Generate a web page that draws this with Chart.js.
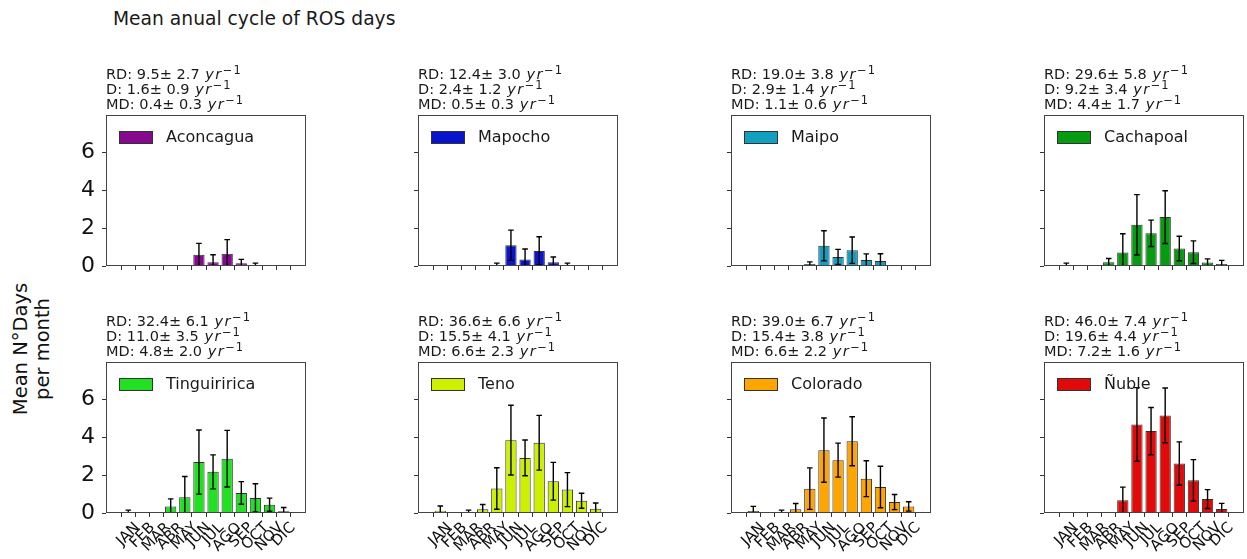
<!DOCTYPE html>
<html><head><meta charset="utf-8">
<script src="https://cdn.jsdelivr.net/npm/chart.js@4.4.0/dist/chart.umd.min.js"></script>
<style>
body{margin:0;background:#fff;width:1247px;height:559px;position:relative;overflow:hidden;font-family:'DejaVu Sans',sans-serif;color:#111;}
.wrap{position:absolute;}
.ann{position:absolute;font-size:14.5px;line-height:15px;white-space:nowrap;color:#1a1a1a;}
.ann i{font-style:italic;letter-spacing:1.5px;margin-left:1px;}
.ann sup{font-size:11.5px;line-height:0;vertical-align:5px;letter-spacing:1px;}
#title{position:absolute;left:113px;top:8px;font-size:18.7px;white-space:nowrap;color:#1a1a1a;}
#ylab{position:absolute;left:32px;top:349px;transform:translate(-50%,-50%) rotate(-90deg);font-size:19.5px;line-height:22px;text-align:center;white-space:nowrap;color:#111;}
</style>
</head><body>
<div id="title">Mean anual cycle of ROS days</div>
<div id="ylab">Mean N°Days<br>per month</div>
<script>
const months = ['JAN','FEB','MAR','ABR','MAY','JUN','JUL','AGO','SEP','OCT','NOV','DIC'];
const yTicks = [0,2,4,6];
const basins = ['Aconcagua','Mapocho','Maipo','Cachapoal','Tinguiririca','Teno','Colorado','Ñuble'];
const colors = ['#85088f','#0a14cc','#12a0c0','#079b12','#22e022','#ccf000','#ffa500','#e00a0a'];

const aconcaguaMean = [0,0,0,0,0,0.6,0.2,0.65,0.15,0.05,0,0];
const aconcaguaErr  = [0,0,0,0,0,0.6,0.4,0.75,0.2,0.1,0,0];
const mapochoMean = [0,0,0,0,0.05,1.1,0.35,0.8,0.2,0.05,0,0];
const mapochoErr  = [0,0,0,0,0.1,0.8,0.55,0.75,0.28,0.1,0,0];
const maipoMean = [0,0,0,0,0.1,1.07,0.48,0.84,0.32,0.27,0,0];
const maipoErr  = [0,0,0,0,0.12,0.8,0.4,0.7,0.32,0.38,0,0];
const cachapoalMean = [0.05,0,0,0.2,0.71,2.18,1.73,2.59,0.93,0.73,0.18,0.1];
const cachapoalErr  = [0.1,0,0,0.2,1.0,1.6,0.7,1.4,0.65,0.6,0.2,0.2];
const tinguiriricaMean = [0.05,0,0,0.35,0.83,2.7,2.18,2.88,1.06,0.8,0.44,0.09];
const tinguiriricaErr  = [0.1,0,0,0.4,1.1,1.7,0.9,1.5,0.6,0.75,0.35,0.2];
const tenoMean = [0.12,0,0.05,0.2,1.3,3.86,2.92,3.72,1.68,1.24,0.65,0.23];
const tenoErr  = [0.25,0,0.1,0.25,1.1,1.85,0.95,1.45,1.0,0.9,0.4,0.3];
const coloradoMean = [0.1,0,0.05,0.2,1.29,3.33,2.8,3.8,1.82,1.38,0.58,0.35];
const coloradoErr  = [0.25,0,0.1,0.3,1.1,1.7,0.9,1.3,0.95,1.1,0.4,0.25];
const nubleMean = [0,0,0,0,0.67,4.69,4.34,5.17,2.62,1.73,0.74,0.21];
const nubleErr  = [0,0,0,0,0.7,1.95,1.25,1.45,1.15,1.1,0.5,0.3];

const rdText = ['9.5± 2.7','12.4± 3.0','19.0± 3.8','29.6± 5.8','32.4± 6.1','36.6± 6.6','39.0± 6.7','46.0± 7.4'];
const dText  = ['1.6± 0.9','2.4± 1.2','2.9± 1.4','9.2± 3.4','11.0± 3.5','15.5± 4.1','15.4± 3.8','19.6± 4.4'];
const mdText = ['0.4± 0.3','0.5± 0.3','1.1± 0.6','4.4± 1.7','4.8± 2.0','6.6± 2.3','6.6± 2.2','7.2± 1.6'];

const means = [aconcaguaMean,mapochoMean,maipoMean,cachapoalMean,tinguiriricaMean,tenoMean,coloradoMean,nubleMean];
const errs  = [aconcaguaErr,mapochoErr,maipoErr,cachapoalErr,tinguiriricaErr,tenoErr,coloradoErr,nubleErr];

const lefts = [106,418,731,1044];
const tops = [115,362];
const BOXW = 200, BOXH = 151;
const PADL = 45, PADT = 6, PADR = 6, PADB = 55;

const panelPlugin = {
  id:'panel',
  afterDatasetsDraw(chart){
    const ctx = chart.ctx, ca = chart.chartArea, xs = chart.scales.x, ys = chart.scales.y;
    const ds = chart.data.datasets[0];
    ctx.save();
    ctx.beginPath(); ctx.rect(ca.left, ca.top, ca.right-ca.left, ca.bottom-ca.top); ctx.clip();
    ctx.strokeStyle = '#000'; ctx.lineWidth = 1.4;
    ds.errors.forEach((e,i)=>{
      if(!e) return;
      const v = ds.means[i];
      const x = xs.getPixelForValue(i);
      const yt = ys.getPixelForValue(v+e), yb = ys.getPixelForValue(v-e);
      ctx.beginPath();
      ctx.moveTo(x,yt); ctx.lineTo(x,yb);
      ctx.moveTo(x-2.8,yt); ctx.lineTo(x+2.8,yt);
      ctx.moveTo(x-2.8,yb); ctx.lineTo(x+2.8,yb);
      ctx.stroke();
    });
    ctx.restore();
  },
  afterDraw(chart){
    const ctx = chart.ctx, ca = chart.chartArea, xs = chart.scales.x;
    const o = chart.options.plugins.panel;
    ctx.save();
    ctx.strokeStyle = '#444'; ctx.lineWidth = 1;
    ctx.strokeRect(Math.round(ca.left)+0.5, Math.round(ca.top)+0.5, Math.round(ca.right-ca.left)-1, Math.round(ca.bottom-ca.top)-1);
    ctx.fillStyle = o.color;
    ctx.fillRect(ca.left+13, ca.top+16, 34, 13);
    ctx.strokeStyle = '#333';
    ctx.strokeRect(ca.left+13.5, ca.top+16.5, 33, 12);
    ctx.fillStyle = '#1a1a1a';
    ctx.font = '16px "DejaVu Sans"';
    ctx.textAlign = 'left'; ctx.textBaseline = 'middle';
    ctx.fillText(o.name, ca.left+60, ca.top+23);
    if(o.row === 1){
      ctx.font = '15px "DejaVu Sans"';
      ctx.fillStyle = '#111';
      ctx.textAlign = 'center'; ctx.textBaseline = 'middle';
      months.forEach((m,i)=>{
        const x = xs.getPixelForValue(i);
        const w = ctx.measureText(m).width, h = 15;
        const bb = (w+h)*Math.SQRT1_2;
        const cy = ca.bottom + 7 + bb/2;
        ctx.save(); ctx.translate(x,cy); ctx.rotate(-Math.PI/4); ctx.fillText(m,0,0); ctx.restore();
      });
    }
    ctx.restore();
  }
};

basins.forEach((name, idx)=>{
  const col = idx % 4, row = Math.floor(idx/4);
  const L = lefts[col], T = tops[row];
  const w = BOXW + PADL + PADR, h = BOXH + PADT + PADB;
  const div = document.createElement('div');
  div.className = 'wrap';
  div.style.left = (L-PADL)+'px'; div.style.top = (T-PADT)+'px';
  div.style.width = w+'px'; div.style.height = h+'px';
  const cv = document.createElement('canvas');
  cv.width = w; cv.height = h; cv.style.width = w+'px'; cv.style.height = h+'px';
  div.appendChild(cv);
  document.body.appendChild(div);

  const ann = document.createElement('div');
  ann.className = 'ann';
  ann.style.left = L+'px'; ann.style.top = (T-48)+'px';
  ann.innerHTML = 'RD: '+rdText[idx]+' <i>yr</i><sup>−1</sup><br>D: '+dText[idx]+' <i>yr</i><sup>−1</sup><br>MD: '+mdText[idx]+' <i>yr</i><sup>−1</sup>';
  document.body.appendChild(ann);

  new Chart(cv, {
    type:'bar',
    data:{datasets:[{
      label:name,
      data: means[idx].map((v,i)=>({x:i, y: v===0 ? null : v})),
      means: means[idx],
      errors: errs[idx],
      backgroundColor: colors[idx],
      borderColor:'#333', borderWidth:1,
      barPercentage:0.8, categoryPercentage:1.0
    }]},
    options:{
      responsive:false, animation:false, events:[],
      layout:{padding:{left:0, top:PADT, right:PADR, bottom:0}},
      plugins:{legend:{display:false}, tooltip:{enabled:false}, panel:{name:name, color:colors[idx], row:row}},
      scales:{
        x:{type:'linear', min:-0.99, max:11.99,
           afterBuildTicks: s=>{ s.ticks = months.map((m,i)=>({value:i})); },
           afterFit: s=>{ s.height = PADB; s.paddingLeft = 0; s.paddingRight = 0; },
           ticks:{display:false},
           grid:{drawOnChartArea:false, drawTicks:true, tickLength:4, color:'#333'},
           border:{display:false}},
        y:{min:0, max:8,
           afterBuildTicks: s=>{ s.ticks = yTicks.map(v=>({value:v})); },
           afterFit: s=>{ s.width = PADL; s.paddingTop = 0; s.paddingBottom = 0; },
           ticks:{display: col===0, font:{family:'DejaVu Sans', size:22}, color:'#111', padding:7},
           grid:{drawOnChartArea:false, drawTicks:true, tickLength:4, color:'#333'},
           border:{display:false}}
      }
    },
    plugins:[panelPlugin]
  });
});
</script>
</body></html>
